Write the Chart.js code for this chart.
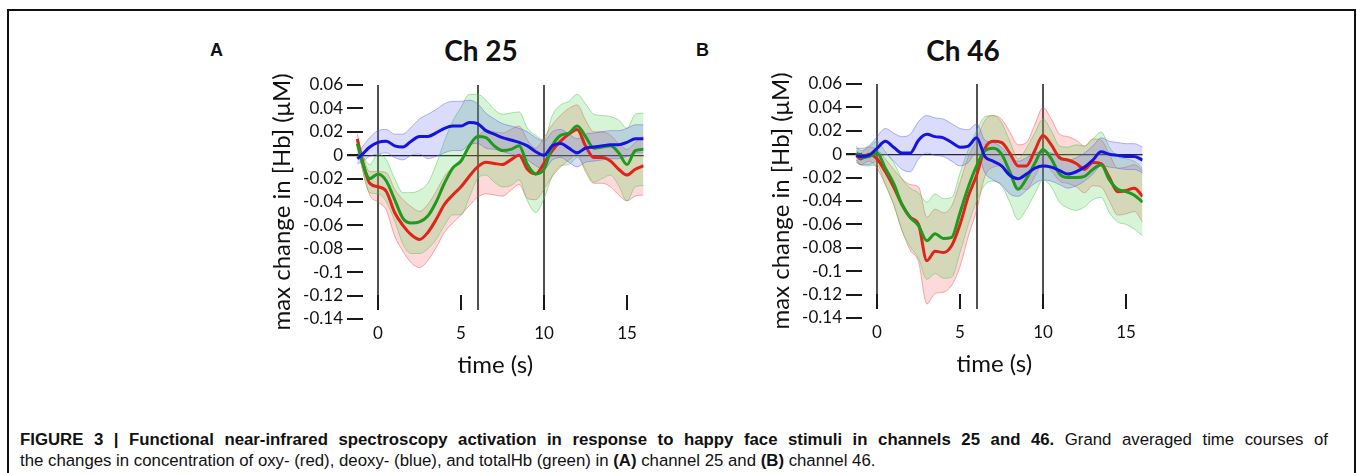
<!DOCTYPE html>
<html>
<head>
<meta charset="utf-8">
<script src="https://cdn.jsdelivr.net/npm/chart.js@4.4.1/dist/chart.umd.min.js"></script>
<style>
  body { margin:0; width:1357px; height:473px; overflow:hidden; background:#fff; position:relative; }
  .frame { position:absolute; left:7px; top:9px; width:1345px; height:480px; border:2px solid #111; border-bottom:none; }
  .panel { position:absolute; width:400px; height:330px; }
  .tag { position:absolute; font:bold 18px "Liberation Sans", Arial, sans-serif; line-height:18px; color:#111; }
  .head { position:absolute; font:bold 28px Lato, sans-serif; line-height:28px; transform:translateX(-50%); white-space:nowrap; color:#111; }
  .cap { position:absolute; left:20px; font:16.8px "Liberation Sans", Arial, sans-serif; line-height:21px; color:#111; }
  .cap1 { top:429px; width:1308px; text-align:justify; text-align-last:justify; }
  .cap2 { top:450px; white-space:nowrap; }
</style>
</head>
<body>
<div class="frame"></div>
<div class="tag" style="left:210px; top:41px;">A</div>
<div class="head" style="left:481px; top:36px;">Ch 25</div>
<div class="tag" style="left:696px; top:41px;">B</div>
<div class="head" style="left:963px; top:36px;">Ch 46</div>
<div class="panel" style="left:262px; top:65px;"><canvas id="chA"></canvas></div>
<div class="panel" style="left:761px; top:64px;"><canvas id="chB"></canvas></div>
<div class="cap cap1"><b>FIGURE 3 | Functional near-infrared spectroscopy activation in response to happy face stimuli in channels 25 and 46.</b> Grand averaged time courses of</div>
<div class="cap cap2">the changes in concentration of oxy- (red), deoxy- (blue), and totalHb (green) in <b>(A)</b> channel 25 and <b>(B)</b> channel 46.</div>
<script>
// time axis (s)
const timeSec = [-1.25, -1, -0.5, 0, 0.5, 1, 1.5, 2, 2.5, 3, 3.5, 4, 4.5, 5, 5.5, 6, 6.5, 7, 7.5, 8,
  8.5, 9, 9.5, 10, 10.5, 11, 11.5, 12, 12.5, 13, 13.5, 14, 14.5, 15, 15.5, 16];
const xTicks = [0, 5, 10, 15];
const yTicks = [0.06, 0.04, 0.02, 0, -0.02, -0.04, -0.06, -0.08, -0.1, -0.12, -0.14];
const eventTimes = [0, 6, 10];

// channel 25
const oxyA = [0.014, -0.002, -0.024, -0.027, -0.031, -0.049, -0.060, -0.068, -0.072, -0.066, -0.055, -0.042,
  -0.034, -0.027, -0.018, -0.010, -0.006, -0.007, -0.008, -0.004, 0.000, -0.012, -0.016, -0.007,
  0.004, 0.012, 0.018, 0.022, 0.008, -0.002, -0.002, -0.005, -0.012, -0.017, -0.012, -0.009];
const oxyErrA = [0.004, 0.006, 0.010, 0.013, 0.016, 0.020, 0.022, 0.024, 0.024, 0.024, 0.024, 0.024,
  0.024, 0.024, 0.025, 0.026, 0.027, 0.027, 0.027, 0.026, 0.025, 0.025, 0.022, 0.022,
  0.022, 0.022, 0.022, 0.021, 0.022, 0.022, 0.022, 0.022, 0.022, 0.022, 0.023, 0.025];
const totA = [0.010, -0.003, -0.020, -0.016, -0.022, -0.038, -0.054, -0.058, -0.057, -0.052, -0.040, -0.024,
  -0.011, -0.005, 0.008, 0.016, 0.015, 0.008, 0.004, 0.005, 0.008, -0.008, -0.016, -0.012,
  0.008, 0.017, 0.019, 0.025, 0.016, 0.006, 0.007, 0.008, 0.002, -0.008, 0.004, 0.005];
const totErrA = [0.004, 0.006, 0.012, 0.017, 0.018, 0.018, 0.022, 0.026, 0.027, 0.028, 0.032, 0.036,
  0.040, 0.046, 0.044, 0.036, 0.032, 0.031, 0.031, 0.031, 0.029, 0.031, 0.033, 0.025,
  0.026, 0.026, 0.027, 0.027, 0.028, 0.029, 0.027, 0.025, 0.028, 0.031, 0.031, 0.031];
const deoxyA = [-0.003, 0.000, 0.007, 0.011, 0.012, 0.008, 0.007, 0.012, 0.016, 0.016, 0.019, 0.023,
  0.025, 0.025, 0.028, 0.027, 0.021, 0.018, 0.015, 0.013, 0.011, 0.008, 0.003, 0.000,
  0.008, 0.010, 0.006, 0.002, 0.006, 0.007, 0.008, 0.009, 0.009, 0.011, 0.014, 0.014];
const deoxyErrA = [0.004, 0.006, 0.008, 0.010, 0.010, 0.010, 0.011, 0.012, 0.015, 0.019, 0.020, 0.021,
  0.021, 0.021, 0.019, 0.017, 0.015, 0.013, 0.012, 0.012, 0.012, 0.012, 0.012, 0.012,
  0.012, 0.012, 0.012, 0.012, 0.012, 0.012, 0.012, 0.012, 0.012, 0.012, 0.012, 0.012];

// channel 46
const oxyB = [-0.001, -0.004, 0.000, -0.004, -0.015, -0.028, -0.043, -0.054, -0.060, -0.091, -0.083, -0.084,
  -0.078, -0.060, -0.036, -0.018, 0.005, 0.011, 0.010, 0.001, -0.010, -0.010, 0.003, 0.016,
  0.008, -0.003, -0.005, -0.008, -0.013, -0.007, -0.008, -0.020, -0.032, -0.031, -0.029, -0.036];
const oxyErrB = [0.004, 0.005, 0.006, 0.008, 0.011, 0.015, 0.022, 0.028, 0.032, 0.037, 0.036, 0.034,
  0.034, 0.036, 0.034, 0.030, 0.024, 0.022, 0.020, 0.018, 0.018, 0.020, 0.022, 0.024,
  0.022, 0.020, 0.020, 0.020, 0.020, 0.020, 0.020, 0.020, 0.020, 0.020, 0.020, 0.022];
const totB = [0.001, -0.003, -0.002, 0.001, -0.012, -0.025, -0.043, -0.054, -0.061, -0.074, -0.068, -0.072,
  -0.071, -0.050, -0.028, -0.010, 0.003, 0.005, 0.000, -0.015, -0.030, -0.021, -0.008, 0.004,
  -0.004, -0.017, -0.020, -0.020, -0.019, -0.013, -0.009, -0.022, -0.030, -0.032, -0.035, -0.041];
const totErrB = [0.006, 0.006, 0.008, 0.010, 0.014, 0.018, 0.022, 0.025, 0.028, 0.033, 0.034, 0.034,
  0.034, 0.034, 0.032, 0.030, 0.029, 0.028, 0.027, 0.026, 0.026, 0.026, 0.026, 0.026,
  0.024, 0.024, 0.026, 0.028, 0.026, 0.026, 0.028, 0.028, 0.028, 0.028, 0.029, 0.029];
const deoxyB = [-0.001, -0.002, -0.001, 0.005, 0.011, 0.006, 0.001, 0.001, 0.012, 0.017, 0.015, 0.014,
  0.010, 0.006, 0.007, 0.014, -0.002, -0.006, -0.010, -0.018, -0.021, -0.017, -0.012, -0.010,
  -0.011, -0.014, -0.017, -0.015, -0.011, -0.005, 0.002, 0.000, -0.001, -0.002, -0.002, -0.005];
const deoxyErrB = [0.006, 0.007, 0.008, 0.010, 0.011, 0.012, 0.014, 0.016, 0.016, 0.016, 0.016, 0.016,
  0.016, 0.016, 0.014, 0.012, 0.014, 0.016, 0.016, 0.016, 0.015, 0.014, 0.013, 0.012,
  0.012, 0.012, 0.012, 0.012, 0.012, 0.012, 0.012, 0.011, 0.011, 0.011, 0.011, 0.011];

const styles = {
  oxy:   { line: '#e2231a', fill: 'rgba(245,80,80,0.22)', edge: 'rgba(235,70,70,0.45)', order: 3 },
  tot:   { line: '#1f9a1f', fill: 'rgba(90,215,90,0.25)', edge: 'rgba(70,190,70,0.45)', order: 2 },
  deoxy: { line: '#1414e0', fill: 'rgba(90,90,240,0.22)', edge: 'rgba(90,90,235,0.45)', order: 1 }
};

const pts = (mean, err, sign) => timeSec.map((t, i) => ({ x: t, y: mean[i] + sign * err[i] }));

function seriesSets(kind, mean, err) {
  const s = styles[kind];
  const edge = { pointRadius: 0, borderWidth: 1, borderColor: s.edge, cubicInterpolationMode: 'monotone' };
  return [
    Object.assign({ data: pts(mean, err, 1), backgroundColor: s.fill, fill: '+1', order: 10 + s.order }, edge),
    Object.assign({ data: pts(mean, err, -1), fill: false, order: 10 + s.order }, edge),
    { data: pts(mean, err, 0), borderColor: s.line, borderWidth: 3, pointRadius: 0, fill: false,
      cubicInterpolationMode: 'monotone', order: s.order }
  ];
}

const axisMarks = {
  id: 'axisMarks',
  beforeDatasetsDraw(chart) {
    const { ctx, chartArea: area, scales: { x, y } } = chart;
    ctx.save();
    ctx.strokeStyle = '#1a1a1a';
    ctx.lineWidth = 2;
    ctx.beginPath();
    yTicks.forEach(v => {
      const py = Math.round(y.getPixelForValue(v));
      ctx.moveTo(area.left, py);
      ctx.lineTo(area.left + 16, py);
    });
    xTicks.forEach(v => {
      const px = Math.round(x.getPixelForValue(v));
      ctx.moveTo(px, area.bottom - 24);
      ctx.lineTo(px, area.bottom - 9);
    });
    ctx.stroke();
    ctx.lineWidth = 1.5;
    ctx.beginPath();
    eventTimes.forEach(t => {
      const px = Math.round(x.getPixelForValue(t));
      ctx.moveTo(px, y.getPixelForValue(yTicks[0]));
      ctx.lineTo(px, area.bottom - 9);
    });
    ctx.stroke();
    ctx.restore();
  }
};

const fontTick = { family: 'Lato', size: 17 };
const fontTitle = { family: 'Lato', size: 24 };

function makePanel(id, oxy, oxyErr, tot, totErr, deoxy, deoxyErr) {
  return new Chart(document.getElementById(id), {
    type: 'line',
    data: {
      datasets: [
        ...seriesSets('deoxy', deoxy, deoxyErr),
        ...seriesSets('tot', tot, totErr),
        ...seriesSets('oxy', oxy, oxyErr)
      ]
    },
    plugins: [axisMarks],
    options: {
      responsive: true,
      maintainAspectRatio: false,
      animation: false,
      layout: { padding: { top: 20, right: 18.4, left: 0, bottom: 0 } },
      plugins: { legend: { display: false }, tooltip: { enabled: false } },
      scales: {
        x: {
          type: 'linear', min: -1.87, max: 16,
          afterBuildTicks: s => { s.ticks = xTicks.map(v => ({ value: v })); },
          afterFit: s => { s.height = 76; },
          border: { display: false },
          grid: { display: false, drawTicks: false },
          ticks: { padding: 4, color: '#111', font: fontTick, maxRotation: 0 },
          title: { display: true, text: 'time (s)', color: '#111', font: fontTitle, padding: { top: 0, bottom: 15.6 } }
        },
        y: {
          min: -0.14, max: 0.06,
          afterBuildTicks: s => { s.ticks = yTicks.map(v => ({ value: v })); },
          afterFit: s => { s.width = 85; },
          border: { display: false },
          grid: {
            drawTicks: false, lineWidth: 1.2,
            color: c => (c.tick && c.tick.value === 0) ? '#111' : 'rgba(0,0,0,0)'
          },
          ticks: { padding: 4, color: '#111', font: fontTick, callback: v => String(Math.round(v * 100) / 100) },
          title: { display: true, text: 'max change in [Hb] (μM)', color: '#111', font: fontTitle, padding: { top: 6, bottom: 0 } }
        }
      }
    }
  });
}

makePanel('chA', oxyA, oxyErrA, totA, totErrA, deoxyA, deoxyErrA);
makePanel('chB', oxyB, oxyErrB, totB, totErrB, deoxyB, deoxyErrB);
</script>
</body>
</html>
